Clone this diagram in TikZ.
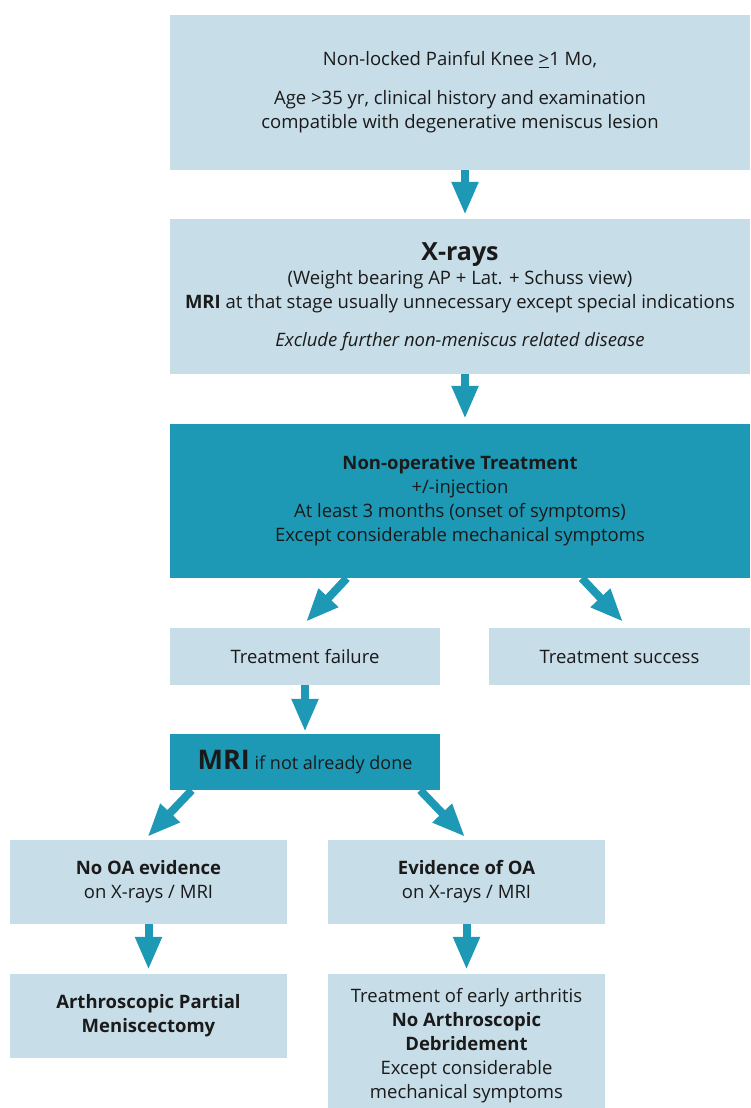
\documentclass[tikz,border=0pt]{standalone}
\usepackage{fontspec}
\setmainfont{Open Sans}
\usetikzlibrary{arrows.meta}

\definecolor{boxlight}{HTML}{C7DDE8}
\definecolor{boxdark}{HTML}{1D99B5}
\definecolor{textdark}{HTML}{1A1A1A}

\tikzset{
    lightbox/.style = {fill = boxlight, minimum width = #1, inner sep = 0pt, align = center,
        text = textdark, font = \fontsize{18.5}{24}\selectfont},
    darkbox/.style = {lightbox = #1, fill = boxdark},
    flowarrow/.style = {draw = boxdark, line width = 8pt,
        -{Triangle[width = 25pt, length = 33pt]}}
}

\begin{document}
\begin{tikzpicture}[x = 1pt, y = 1pt]
    \useasboundingbox (0, 0) rectangle (750, -1108);

    % top row
    \node[lightbox = 580pt, minimum height = 155pt] (knee) at (460, -92.5) {
        Non-locked Painful Knee \underline{>}1 Mo,\\[15pt]
        Age >35 yr, clinical history and examination\\
        compatible with degenerative meniscus lesion};
    \node[lightbox = 580pt, minimum height = 155pt] (xray) at (460, -296.5) {
        {\fontsize{25}{28}\selectfont\bfseries X-rays}\\
        (Weight bearing AP + Lat. + Schuss view)\\
        \textbf{MRI} at that stage usually unnecessary except special indications\\[14pt]
        \textit{Exclude further non-meniscus related disease}};
    \node[darkbox = 580pt, minimum height = 154pt] (nonop) at (460, -501) {
        \textbf{Non-operative Treatment}\\
        +/-injection\\
        At least 3 months (onset of symptoms)\\
        Except considerable mechanical symptoms};

    % outcome of treatment
    \node[lightbox = 270pt, minimum height = 57pt] (fail) at (305, -656.5) {Treatment failure};
    \node[lightbox = 261pt, minimum height = 57pt] (success) at (619.5, -656.5) {Treatment success};
    \node[darkbox = 270pt, minimum height = 56pt] (mri) at (305, -762) {
        {\fontsize{27}{28}\selectfont\bfseries MRI}
        {\fontsize{18}{20}\selectfont if not already done}};

    % OA branches
    \node[lightbox = 277pt, minimum height = 84pt] (nooa) at (148.5, -882) {
        \textbf{No OA evidence}\\
        on X-rays / MRI};
    \node[lightbox = 277pt, minimum height = 84pt] (oa) at (466.5, -882) {
        \textbf{Evidence of OA}\\
        on X-rays / MRI};
    \node[lightbox = 277pt, minimum height = 84pt] (apm) at (148.5, -1016) {
        \textbf{Arthroscopic Partial}\\
        \textbf{Meniscectomy}};
    \node[lightbox = 277pt, minimum height = 144pt] (early) at (466.5, -1046) {
        Treatment of early arthritis\\
        \textbf{No Arthroscopic}\\
        \textbf{Debridement}\\
        Except considerable\\
        mechanical symptoms};

    % arrows
    \draw[flowarrow, shorten > = 4pt] ([xshift = 5pt]knee.south) -- ([xshift = 5pt]xray.north);
    \draw[flowarrow, shorten > = 5pt] ([xshift = 5pt]xray.south) -- ([xshift = 5pt]nonop.north);
    \draw[flowarrow] ([xshift = 177pt]nonop.south west) -- ([xshift = 1pt, yshift = 6pt]fail.north);
    \draw[flowarrow] ([xshift = 412pt]nonop.south west) -- ([xshift = 3.5pt, yshift = 6pt]success.north);
    \draw[flowarrow, shorten > = 2pt] (fail.south) -- (mri.north);
    \draw[flowarrow] ([xshift = 22pt]mri.south west) -- ([xshift = -1pt, yshift = 3pt]nooa.north);
    \draw[flowarrow] ([xshift = -20pt]mri.south east) -- ([xshift = -1.5pt, yshift = 3pt]oa.north);
    \draw[flowarrow, shorten > = 4pt] (nooa.south) -- (apm.north);
    \draw[flowarrow, shorten > = 4pt] (oa.south) -- (early.north);
\end{tikzpicture}
\end{document}
